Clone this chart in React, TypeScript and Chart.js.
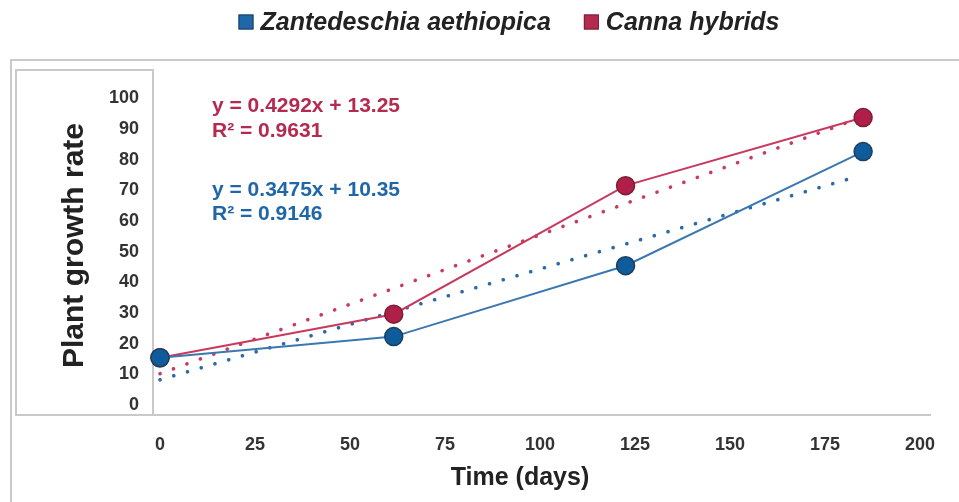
import React, { useEffect, useRef } from "react";
import { Chart, registerables } from "chart.js";

Chart.register(...registerables);

// ---- data ----
const seriesNames = ["Zantedeschia aethiopica", "Canna hybrids"];
const timeDays = [0, 61.5, 122.5, 185];
const zantedeschiaValues = [15.4, 22.3, 45.4, 82.6];
const cannaValues = [15.4, 29.6, 71.5, 93.7];
const zantedeschiaTrendX = [0, 182.4];
const zantedeschiaTrendY = [8.2, 74.1];
const cannaTrendX = [0, 184];
const cannaTrendY = [10.2, 93.5];
const xTickValues = [0, 25, 50, 75, 100, 125, 150, 175, 200];
const yTickValues = [0, 10, 20, 30, 40, 50, 60, 70, 80, 90, 100];
const cannaEquation = ["y = 0.4292x + 13.25", "R\u00b2 = 0.9631"];
const zantedeschiaEquation = ["y = 0.3475x + 10.35", "R\u00b2 = 0.9146"];
const xTitle = "Time (days)";
const yTitle = "Plant growth rate";

const FONT = '"Liberation Sans", Arial, Helvetica, sans-serif';
const BLUE = "#1f67a8";
const BLUE_LINE = "#3b78b2";
const BLUE_EDGE = "#1d3e5e";
const RED = "#b52a4f";
const RED_LINE = "#c8395d";
const RED_EDGE = "#7a1f35";
const FRAME = "#c9c9c9";

const toPoints = (xs: number[], ys: number[]) => xs.map((x, i) => ({ x, y: ys[i] }));

const decorPlugin = {
  id: "decor",
  beforeDraw(chart: any) {
    const { ctx, chartArea: a } = chart;
    ctx.save();
    ctx.strokeStyle = FRAME;
    ctx.lineWidth = 2;
    // outer frame (open to the right/bottom)
    ctx.beginPath();
    ctx.moveTo(a.left - 142, chart.height + 2);
    ctx.lineTo(a.left - 142, a.top - 10);
    ctx.lineTo(chart.width + 2, a.top - 10);
    ctx.stroke();
    // box around the y axis
    ctx.strokeRect(a.left - 137, a.top, 137, a.bottom - a.top);
    ctx.restore();
  },
  afterDraw(chart: any) {
    const { ctx, chartArea: a } = chart;
    ctx.save();
    // legend
    ctx.font = `italic bold 25px ${FONT}`;
    const box = 15;
    const gap = 7;
    const spacing = 33;
    const colors = [BLUE, RED];
    const edges = [BLUE_EDGE, RED_EDGE];
    const widths = seriesNames.map((n) => ctx.measureText(n).width);
    const total = widths.reduce((s, w) => s + box + gap + w, 0) + spacing * (seriesNames.length - 1);
    let lx = 509 - total / 2;
    const ly = 22;
    seriesNames.forEach((name, i) => {
      ctx.fillStyle = colors[i];
      ctx.fillRect(lx, ly - box / 2, box, box);
      ctx.strokeStyle = edges[i];
      ctx.lineWidth = 1;
      ctx.strokeRect(lx + 0.5, ly - box / 2 + 0.5, box - 1, box - 1);
      ctx.fillStyle = "#222";
      ctx.textAlign = "left";
      ctx.textBaseline = "middle";
      ctx.fillText(name, lx + box + gap, ly + 1);
      lx += box + gap + widths[i] + spacing;
    });

    // equations
    ctx.font = `bold 21px ${FONT}`;
    ctx.textAlign = "left";
    ctx.textBaseline = "middle";
    const ex = a.left + 59;
    ctx.fillStyle = RED;
    cannaEquation.forEach((t, i) => ctx.fillText(t, ex, a.top + 36 + i * 25));
    ctx.fillStyle = BLUE;
    zantedeschiaEquation.forEach((t, i) => ctx.fillText(t, ex, a.top + 120 + i * 24));

    // axis titles
    ctx.fillStyle = "#222";
    ctx.font = `bold 25px ${FONT}`;
    ctx.textAlign = "center";
    ctx.fillText(xTitle, a.left + 367, a.bottom + 63);
    ctx.translate(a.left - 78, (a.top + a.bottom) / 2 + 3);
    ctx.rotate(-Math.PI / 2);
    ctx.font = `bold 30px ${FONT}`;
    ctx.fillText(yTitle, 0, 0);
    ctx.restore();
  },
};

export default function App() {
  const ref = useRef<HTMLCanvasElement | null>(null);

  useEffect(() => {
    if (!ref.current) return;
    const tickFont = { family: FONT, size: 18, weight: "bold" as const };
    const chart = new Chart(ref.current, {
      type: "line",
      data: {
        datasets: [
          {
            label: seriesNames[0],
            data: toPoints(timeDays, zantedeschiaValues),
            borderColor: BLUE_LINE,
            backgroundColor: BLUE,
            borderWidth: 2,
            pointRadius: 9,
            pointBackgroundColor: "#0e5c9c",
            pointBorderColor: BLUE_EDGE,
            pointBorderWidth: 1.5,
            tension: 0,
            clip: false,
          },
          {
            label: seriesNames[1],
            data: toPoints(timeDays, cannaValues),
            borderColor: RED_LINE,
            backgroundColor: RED,
            borderWidth: 2,
            pointRadius: 9,
            pointBackgroundColor: "#b01f47",
            pointBorderColor: RED_EDGE,
            pointBorderWidth: 1.5,
            tension: 0,
            clip: false,
          },
          {
            label: "Zantedeschia trend",
            data: toPoints(zantedeschiaTrendX, zantedeschiaTrendY),
            borderColor: "#2a6aa6",
            borderWidth: 3.6,
            borderDash: [0.1, 14.2],
            borderCapStyle: "round",
            pointRadius: 0,
            clip: false,
          },
          {
            label: "Canna trend",
            data: toPoints(cannaTrendX, cannaTrendY),
            borderColor: "#c93a60",
            borderWidth: 3.6,
            borderDash: [0.1, 14.2],
            borderCapStyle: "round",
            pointRadius: 0,
            clip: false,
          },
        ],
      },
      options: {
        animation: false,
        responsive: true,
        maintainAspectRatio: false,
        layout: { padding: { top: 70, right: 29, left: 0, bottom: 0 } },
        plugins: { legend: { display: false }, tooltip: { enabled: false } },
        scales: {
          x: {
            type: "linear",
            min: -1.84,
            max: 202.6,
            afterBuildTicks: (s: any) => {
              s.ticks = xTickValues.map((v) => ({ value: v }));
            },
            afterFit: (s: any) => {
              s.height = 87;
            },
            grid: { display: false, drawTicks: false },
            border: { display: true, color: FRAME, width: 2 },
            ticks: { padding: 19, color: "#333", font: tickFont, autoSkip: false, maxRotation: 0 },
          },
          y: {
            type: "linear",
            min: -3.26,
            max: 109.2,
            afterBuildTicks: (s: any) => {
              s.ticks = yTickValues.map((v) => ({ value: v }));
            },
            afterFit: (s: any) => {
              s.width = 153;
            },
            grid: { display: false, drawTicks: false },
            border: { display: true, color: FRAME, width: 2 },
            ticks: { padding: 14, color: "#333", font: tickFont, autoSkip: false },
          },
        },
      },
      plugins: [decorPlugin],
    });
    return () => chart.destroy();
  }, []);

  return (
    <div style={{ position: "absolute", left: 0, top: 0, width: 959, height: 502, background: "#fff" }}>
      <canvas ref={ref} />
    </div>
  );
}
